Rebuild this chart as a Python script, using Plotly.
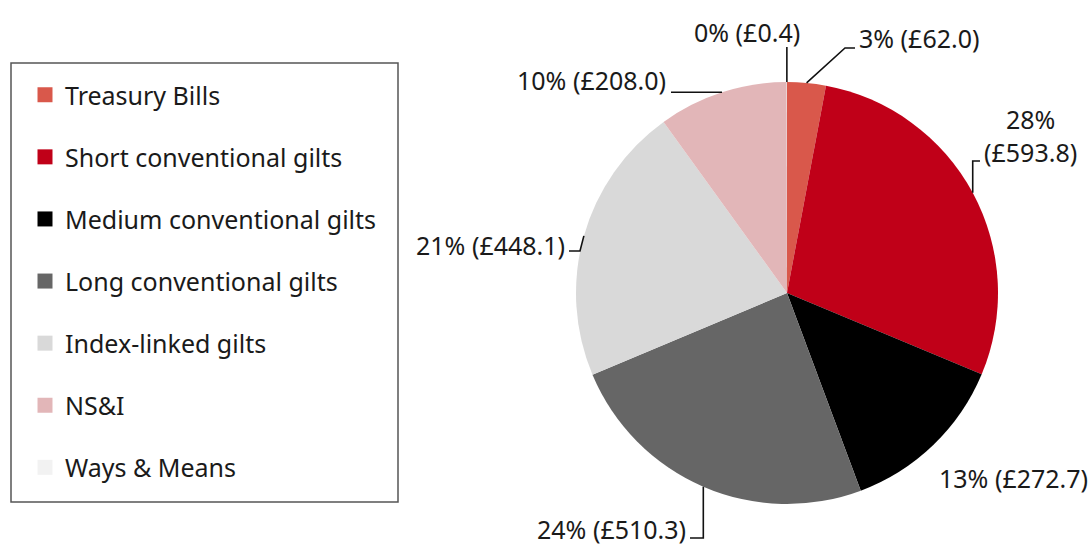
import math
import plotly.graph_objects as go

# ---- data ----
labels = ["Treasury Bills", "Short conventional gilts", "Medium conventional gilts",
          "Long conventional gilts", "Index-linked gilts", "NS&I", "Ways & Means"]
values = [62.0, 593.8, 272.7, 510.3, 448.1, 208.0, 0.4]
colors = ["#D9584B", "#C00018", "#000000", "#666666", "#D9D9D9", "#E2B6B8", "#F2F2F2"]

# ---- layout (pixels) ----
W, H = 1090, 548
CX, CY, R = 787, 293, 211
FONT = "Noto Sans"
FS = 25
TXT = "#1a1a1a"

# label placement style per slice: anchor point, xanchor, connector knee/end points
label_style = [
    dict(x=857, y=38, xa="left", line=[(845, 48), (855, 48)]),
    dict(x=1030, y=135, xa="center", line=[None, (980, 161)], br=True),
    dict(x=937, y=478, xa="left", line=None),
    dict(x=688, y=529, xa="right", line=[None, (690, 538)]),
    dict(x=567, y=245, xa="right", line=[(580, 251), (569, 251)]),
    dict(x=668, y=80, xa="right", line="h", hx=671),
    dict(x=747, y=32, xa="center", line=[None]),
]


def px(x):
    return x / W


def py(y):
    return 1 - y / H


fig = go.Figure()

fig.add_trace(go.Pie(
    labels=labels, values=values, sort=False, direction="clockwise", rotation=0,
    marker=dict(colors=colors, line=dict(width=0)),
    textinfo="none", hoverinfo="label+value+percent", showlegend=False,
    domain=dict(x=[px(CX - R), px(CX + R)], y=[py(CY + R), py(CY - R)]),
))

# legend via proxy entries (allows Excel-like spacing)
for lab, col in zip(labels, colors):
    fig.add_trace(go.Scatter(
        x=[None], y=[None], mode="markers", name=lab, legendgroup=lab,
        marker=dict(symbol="square", size=15, color=col), showlegend=True,
    ))

total = sum(values)
cum = 0.0
shapes = []
annotations = []
for v, st in zip(values, label_style):
    mid = (cum + v / 2) / total * 2 * math.pi
    cum += v
    ex = CX + R * math.sin(mid)
    ey = CY - R * math.cos(mid)
    pct = round(v / total * 100)
    sep = "<br>" if st.get("br") else " "
    text = f"{pct}%{sep}(£{v:.1f})"
    annotations.append(dict(
        x=px(st["x"]), y=py(st["y"]), xref="paper", yref="paper",
        text=text, showarrow=False, xanchor=st["xa"], yanchor="middle",
        font=dict(family=FONT, size=FS, color=TXT), align="center",
    ))
    ln = st["line"]
    if ln is not None:
        if ln == "h":
            pts = [(ex, ey), (st["hx"], ey)]
        elif ln == [None]:
            pts = [(ex, ey), (ex, 47)]
        elif ln[0] is None:
            end = ln[1]
            pts = [(ex, ey), (ex, end[1]), end]
        else:
            pts = [(ex, ey)] + list(ln)
        path = "M " + " L ".join(f"{px(a):.5f},{py(b):.5f}" for a, b in pts)
        shapes.append(dict(type="path", path=path, xref="paper", yref="paper",
                           line=dict(color="#111111", width=1.6)))

# legend box
shapes.append(dict(type="rect", xref="paper", yref="paper",
                   x0=px(11), x1=px(398), y0=py(502), y1=py(63),
                   line=dict(color="#555555", width=1.5), fillcolor="rgba(0,0,0,0)"))

fig.update_layout(
    width=W, height=H,
    margin=dict(l=0, r=0, t=0, b=0),
    paper_bgcolor="white", plot_bgcolor="white",
    xaxis=dict(visible=False, domain=[0, 0.01]), yaxis=dict(visible=False, domain=[0, 0.01]),
    shapes=shapes, annotations=annotations,
    legend=dict(x=px(25), y=py(72), xanchor="left", yanchor="top",
                font=dict(family=FONT, size=FS, color=TXT),
                tracegroupgap=26.6, bgcolor="rgba(0,0,0,0)", itemclick=False),
    showlegend=True,
)

fig.write_html("out.html", config={"displayModeBar": False},
               post_script="document.body.style.margin='0';")
